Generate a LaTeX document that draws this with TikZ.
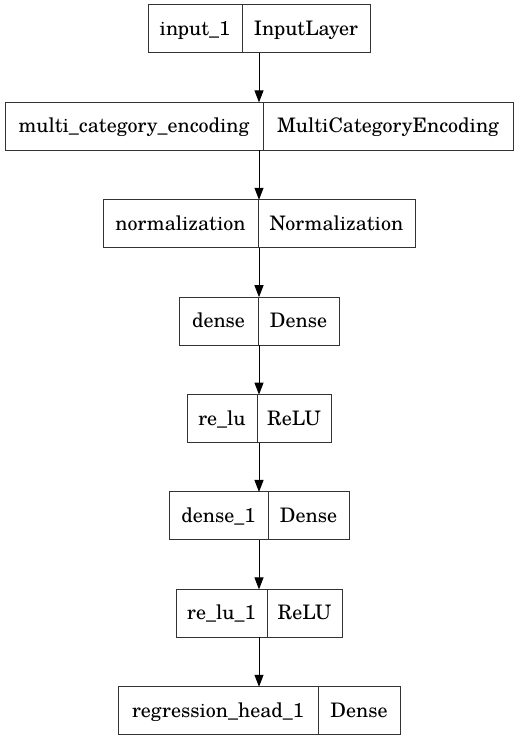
\documentclass[tikz,border=0pt]{standalone}
\usepackage{fontspec}
\setmainfont{texgyreschola-regular.otf}
\usetikzlibrary{arrows.meta}
\tikzset{
  box/.style={draw=black!80, line width=1pt, minimum height=48pt, inner sep=0pt, outer sep=0pt},
  lbl/.style={inner sep=0pt, anchor=base, font=\fontsize{20}{24}\selectfont, text=black},
  conn/.style={draw=black, line width=1pt, -{Triangle[length=12pt,width=9pt]}}
}
\newcommand\lyr[7]{%
  \pgfmathsetmacro\yc{741-(29+97.4*#2)}%
  \node[box, minimum width={(#5-#3)*1pt}] (#1) at ({(#3+#5)/2},\yc) {};
  \draw[draw=black!80, line width=1pt] (#1.north -| #4,0) -- (#1.south -| #4,0);
  \node[lbl] (#1-l) at ({(#3+#4)/2},\yc-6.5) {#6};
  \node[lbl] (#1-r) at ({(#4+#5)/2},\yc-6.5) {#7};
}
\begin{document}
\begin{tikzpicture}[x=1pt,y=1pt]
\useasboundingbox (0,0) rectangle (519,741);
\lyr{b1}{0}{148}{242}{370}{input\_1}{InputLayer}
\lyr{b2}{1}{5}{263}{513}{multi\_category\_encoding}{MultiCategoryEncoding}
\lyr{b3}{2}{103}{258}{415}{normalization}{Normalization}
\lyr{b4}{3}{179}{258}{339}{dense}{Dense}
\lyr{b5}{4}{187}{257}{331}{re\_lu}{ReLU}
\lyr{b6}{5}{169}{268}{349}{dense\_1}{Dense}
\lyr{b7}{6}{176}{267}{342}{re\_lu\_1}{ReLU}
\lyr{b8}{7}{118}{318}{400}{regression\_head\_1}{Dense}
\draw[conn] (b1) -- (b2);
\draw[conn] (b2) -- (b3);
\draw[conn] (b3) -- (b4);
\draw[conn] (b4) -- (b5);
\draw[conn] (b5) -- (b6);
\draw[conn] (b6) -- (b7);
\draw[conn] (b7) -- (b8);
\end{tikzpicture}
\end{document}
